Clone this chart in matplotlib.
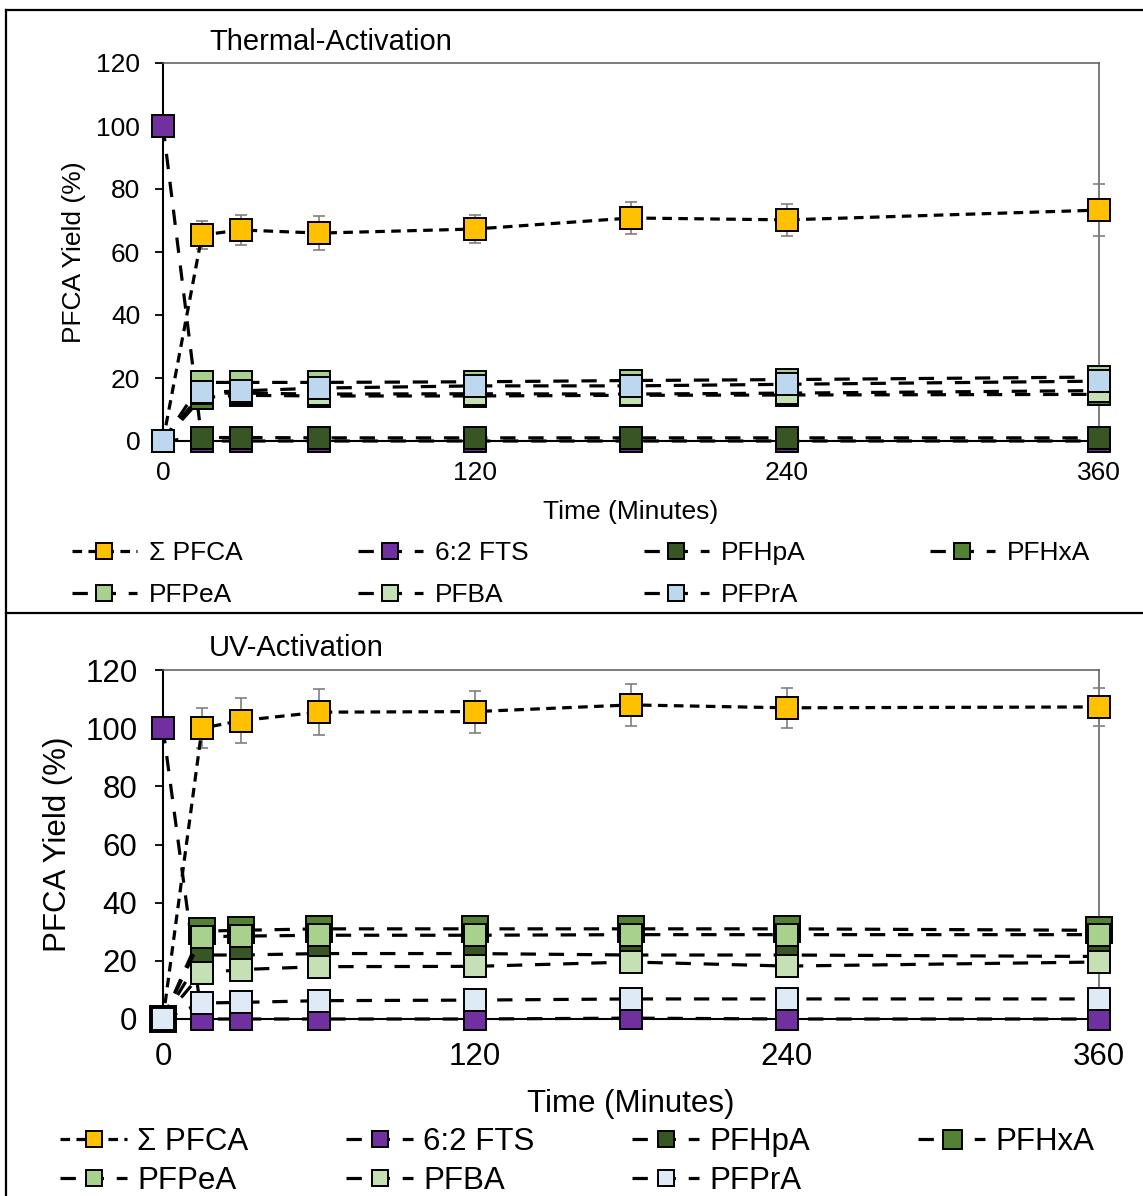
import matplotlib
matplotlib.use('Agg')
import matplotlib.pyplot as plt
from matplotlib.lines import Line2D

plt.rcParams['font.family'] = ['Liberation Sans', 'DejaVu Sans']

TIME = [0, 15, 30, 60, 120, 180, 240, 360]
SERIES = ['\u03a3 PFCA', '6:2 FTS', 'PFHpA', 'PFHxA', 'PFPeA', 'PFBA', 'PFPrA']

# thermal activation
TH_SUM = [0, 65.4, 67.0, 66.0, 67.3, 70.8, 70.2, 73.3]
TH_SUM_ERR = [0, 4.3, 4.9, 5.3, 4.5, 5.2, 5.0, 8.2]
TH_FTS = [100, 0, 0, 0, 0, 0, 0, 0]
TH_PFHPA = [0, 1.1, 1.1, 1.0, 1.0, 1.0, 1.0, 1.0]
TH_PFHXA = [0, 13.8, 14.5, 14.3, 14.3, 14.5, 14.6, 14.8]
TH_PFPEA = [0, 18.6, 18.6, 18.6, 18.8, 19.2, 19.5, 20.3]
TH_PFBA = [0, 15.2, 15.2, 14.9, 15.0, 14.9, 15.2, 16.0]
TH_PFPRA = [0, 15.4, 15.9, 16.8, 17.5, 17.5, 18.0, 19.0]

# UV activation
UV_SUM = [0, 100.0, 102.6, 105.5, 105.7, 108.0, 107.0, 107.3]
UV_SUM_ERR = [0, 6.9, 7.8, 7.9, 7.2, 7.2, 6.9, 6.5]
UV_FTS = [100, 0, 0, 0, 0, 0.3, 0, 0]
UV_PFHPA = [0, 22.0, 22.0, 22.5, 22.5, 22.0, 22.0, 21.5]
UV_PFHXA = [0, 30.2, 30.5, 31.0, 31.0, 31.0, 31.0, 30.5]
UV_PFPEA = [0, 28.3, 28.5, 28.8, 28.8, 29.0, 29.0, 29.0]
UV_PFBA = [0, 15.8, 17.0, 18.0, 18.1, 19.6, 18.2, 19.6]
UV_PFPRA = [0, 5.5, 5.7, 6.3, 6.5, 6.9, 6.9, 6.9]

COLORS_TH = ['#FFC000', '#7030A0', '#375623', '#548235', '#A9D18E', '#C5E0B4', '#BDD7EE']
COLORS_UV = ['#FFC000', '#7030A0', '#375623', '#548235', '#A9D18E', '#C5E0B4', '#DEEBF7']

W, H = 1143, 1196


def draw_panel(ax, data, err, colors, fs, xpad, big_hxa=False):
    ax.errorbar(TIME[1:], data[0][1:], yerr=err[1:], fmt='none', ecolor='#7F7F7F',
                elinewidth=1.2, capsize=4.5, capthick=1.2, zorder=2.9, clip_on=False)
    handles = []
    for i, (vals, name) in enumerate(zip(data, SERIES)):
        ls = (0, (3, 2)) if i == 0 else (0, (4.8, 4))
        ms = 19 if (big_hxa and name == 'PFHxA') else 15.5
        ln, = ax.plot(TIME, vals, linestyle=ls, color='black', lw=2.3,
                      marker='s', ms=ms, mfc=colors[i], mec='black', mew=1.4,
                      label=name, zorder=3 + i * 0.1, clip_on=False)
        handles.append(ln)
    ax.set_xlim(0, 360)
    ax.set_ylim(0, 120)
    ax.set_xticks([0, 120, 240, 360])
    ax.set_yticks(range(0, 121, 20))
    for s in ['top', 'right']:
        ax.spines[s].set_color('#595959')
        ax.spines[s].set_linewidth(1.1)
    for s in ['left', 'bottom']:
        ax.spines[s].set_color('black')
        ax.spines[s].set_linewidth(1.5)
    ax.tick_params(axis='x', length=0, labelsize=fs, pad=fs * 0.75)
    ax.tick_params(axis='y', length=6, width=1.3, labelsize=fs, pad=fs * 0.55)
    ax.set_xlabel('Time (Minutes)', fontsize=fs, labelpad=xpad)
    ax.set_ylabel('PFCA Yield (%)', fontsize=fs, labelpad=fs * 0.4)
    return handles


def add_legend(fig, handles, x0, ytop, fs, dx, rowgap, hlen, hpad):
    rows = [handles[:4], handles[4:]]
    for c in range(4):
        col = [r[c] for r in rows if c < len(r)]
        fig.legend(col, [h.get_label() for h in col], loc='upper left',
                   bbox_to_anchor=(x0 / W + c * dx / W, 1 - ytop / H),
                   frameon=False, fontsize=fs, handlelength=hlen, handletextpad=hpad,
                   labelspacing=rowgap, borderpad=0, borderaxespad=0,
                   markerscale=0.72, numpoints=1)


fig = plt.figure(figsize=(W / 100, H / 100), dpi=100)

ax1 = fig.add_axes([163 / W, 1 - 441 / H, (1099 - 163) / W, (441 - 63) / H])
h1 = draw_panel(ax1, [TH_SUM, TH_FTS, TH_PFHPA, TH_PFHXA, TH_PFPEA, TH_PFBA, TH_PFPRA],
                TH_SUM_ERR, COLORS_TH, 19, 11)
fig.text(209 / W, 1 - 42 / H, 'Thermal-Activation', fontsize=21, va='center', ha='left')
add_legend(fig, h1, 72, 541, 19, 286, 0.68, 2.46, 0.45)

ax2 = fig.add_axes([163 / W, 1 - 1019 / H, (1099 - 163) / W, (1019 - 670) / H])
h2 = draw_panel(ax2, [UV_SUM, UV_FTS, UV_PFHPA, UV_PFHXA, UV_PFPEA, UV_PFBA, UV_PFPRA],
                UV_SUM_ERR, COLORS_UV, 22.5, 12, big_hxa=True)
fig.text(209 / W, 1 - 648 / H, 'UV-Activation', fontsize=21, va='center', ha='left')
add_legend(fig, h2, 60, 1127, 22.5, 286, 0.28, 2.15, 0.32)

# panel borders
for xs, ys in [([6, W], [10, 10]), ([6, 6], [10, H]), ([6, W], [613, 613])]:
    fig.add_artist(Line2D([x / W for x in xs], [1 - y / H for y in ys],
                          color='black', lw=1.6))

fig.savefig('out.png', dpi=100)
